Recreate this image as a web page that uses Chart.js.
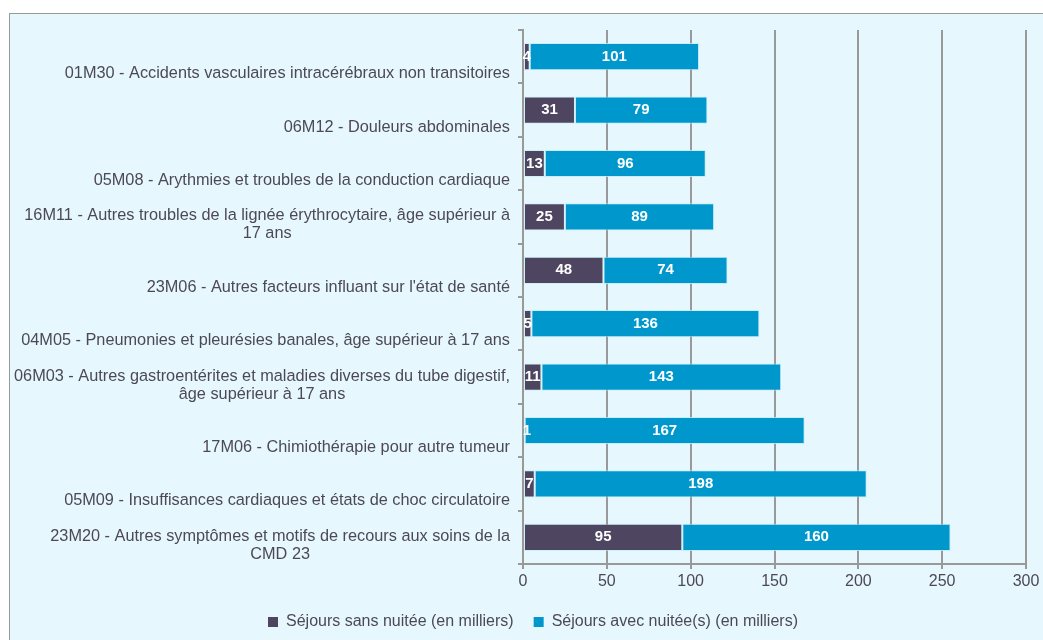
<!DOCTYPE html>
<html>
<head>
<meta charset="utf-8">
<script src="https://cdn.jsdelivr.net/npm/chart.js@4.4.0/dist/chart.umd.min.js"></script>
<style>
  html, body { margin: 0; padding: 0; background: #fff; overflow: hidden; }
  #frame { position: absolute; left: 9px; top: 13px; width: 1100px; height: 700px;
           background: #e6f8fd; border: 1.5px solid #999; }
  #wrap { position: absolute; left: 0; top: 0; width: 1043px; height: 640px; }
</style>
</head>
<body>
<div id="frame"></div>
<div id="wrap"><canvas id="chart"></canvas></div>
<script>
// categories, top to bottom (multi-line where the original wraps)
const categories = [
    ['01M30 - Accidents vasculaires intracérébraux non transitoires'],
    ['06M12 - Douleurs abdominales'],
    ['05M08 - Arythmies et troubles de la conduction cardiaque'],
    ['16M11 - Autres troubles de la lignée érythrocytaire, âge supérieur à', '17 ans'],
    ["23M06 - Autres facteurs influant sur l'état de santé"],
    ['04M05 - Pneumonies et pleurésies banales, âge supérieur à 17 ans'],
    ['06M03 - Autres gastroentérites et maladies diverses du tube digestif,', 'âge supérieur à 17 ans'],
    ['17M06 - Chimiothérapie pour autre tumeur'],
    ['05M09 - Insuffisances cardiaques et états de choc circulatoire'],
    ['23M20 - Autres symptômes et motifs de recours aux soins de la', 'CMD 23'],
];
const sansNuitee = [4, 31, 13, 25, 48, 5, 11, 1, 7, 95];
const avecNuitee = [101, 79, 96, 89, 74, 136, 143, 167, 198, 160];
const xTicks = [0, 50, 100, 150, 200, 250, 300];

const textColor = '#4d4858';
const gridColor = '#999';
const fontFamily = '"Liberation Sans", Arial, sans-serif';

// category labels: block right-aligned, lines centred among themselves, sitting low in the band
const yLabels = {
    id: 'yLabels',
    afterDraw(chart) {
        const ctx = chart.ctx;
        const y = chart.scales.y;
        ctx.save();
        ctx.font = '16.3px ' + fontFamily;
        ctx.fillStyle = textColor;
        ctx.textAlign = 'center';
        ctx.textBaseline = 'middle';
        categories.forEach((lines, i) => {
            const c = y.getPixelForTick(i);
            const w = Math.max(...lines.map(l => ctx.measureText(l).width));
            const cx = y.right - 13 - w / 2;
            lines.forEach((l, j) => {
                ctx.fillText(l, cx, c + 17 - (lines.length - 1 - j) * 18);
            });
        });
        ctx.restore();
    }
};

// white values in the middle of each segment
const barValues = {
    id: 'barValues',
    afterDatasetsDraw(chart) {
        const ctx = chart.ctx;
        ctx.save();
        ctx.font = 'bold 15px ' + fontFamily;
        ctx.fillStyle = '#fff';
        ctx.textAlign = 'center';
        ctx.textBaseline = 'middle';
        chart.data.datasets.forEach((ds, di) => {
            chart.getDatasetMeta(di).data.forEach((bar, i) => {
                const p = bar.getCenterPoint();
                ctx.fillText(ds.data[i], Math.max(p.x, bar.base + 3), p.y);
            });
        });
        ctx.restore();
    }
};

new Chart(document.getElementById('chart'), {
    type: 'bar',
    data: {
        labels: categories,
        datasets: [
            {
                label: 'Séjours sans nuitée (en milliers)',
                data: sansNuitee,
                backgroundColor: '#4e4560',
                borderColor: 'rgba(190,235,250,0.6)',
                borderWidth: 1,
                borderSkipped: false,
            },
            {
                label: 'Séjours avec nuitée(s) (en milliers)',
                data: avecNuitee,
                backgroundColor: '#0098cc',
                borderColor: 'rgba(190,235,250,0.8)',
                borderWidth: 1,
                borderSkipped: false,
            },
        ],
    },
    options: {
        indexAxis: 'y',
        responsive: true,
        maintainAspectRatio: false,
        animation: false,
        layout: { padding: { top: 30, right: 17, bottom: 0, left: 40 } },
        datasets: { bar: { barPercentage: 0.51, categoryPercentage: 1 } },
        scales: {
            x: {
                stacked: true,
                min: 0,
                max: 300,
                afterBuildTicks: s => { s.ticks = xTicks.map(v => ({ value: v })); },
                afterFit: s => { s.height = 30; },
                grid: { color: gridColor, lineWidth: 2, tickLength: 5 },
                border: { display: true, color: gridColor, width: 2 },
                ticks: { color: textColor, padding: 3, font: { size: 16, family: fontFamily } },
            },
            y: {
                stacked: true,
                afterFit: s => { s.width = 483; },
                grid: { drawOnChartArea: false, offset: true, tickLength: 5, color: gridColor, lineWidth: 2 },
                border: { display: true, color: gridColor, width: 2 },
                ticks: { display: false },
            },
        },
        plugins: {
            legend: {
                position: 'bottom',
                labels: {
                    boxWidth: 10,
                    boxHeight: 10,
                    padding: 20,
                    color: textColor,
                    font: { size: 16, family: fontFamily },
                    generateLabels: ch => Chart.defaults.plugins.legend.labels.generateLabels(ch)
                        .map(l => Object.assign(l, { lineWidth: 0 })),
                },
            },
            tooltip: { enabled: false },
        },
    },
    plugins: [yLabels, barValues],
});
</script>
</body>
</html>
